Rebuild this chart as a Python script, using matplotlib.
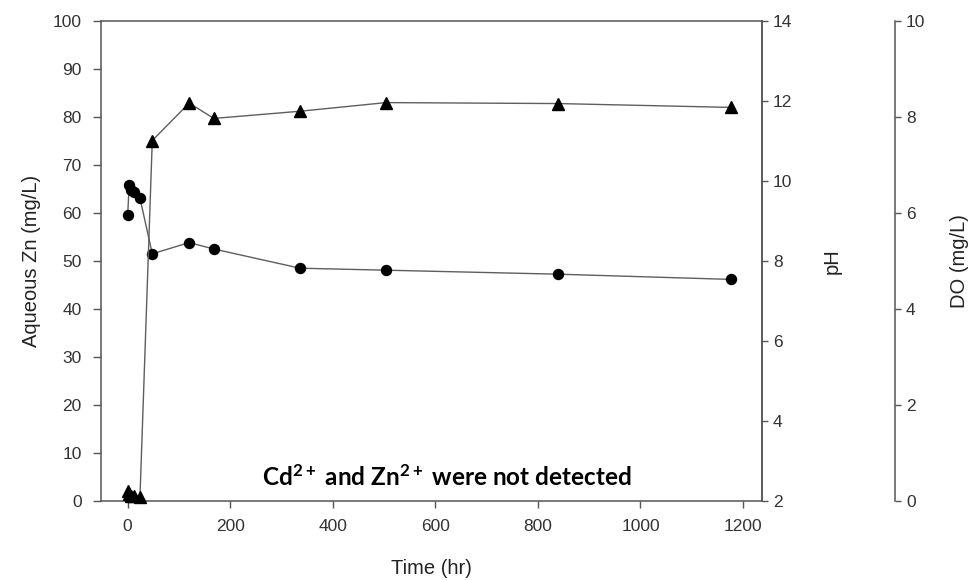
import matplotlib
matplotlib.use("Agg")
import matplotlib.pyplot as plt

# Sampling times (hr)
time_hr = [0, 3, 6, 12, 24, 48, 120, 168, 336, 504, 840, 1176]
# pH of the solution (circles, middle axis)
ph_values = [9.15, 9.90, 9.78, 9.72, 9.57, 8.18, 8.46, 8.30, 7.82, 7.77, 7.67, 7.54]
# Dissolved oxygen, mg/L (triangles, outer axis)
do_values = [0.20, 0.15, 0.10, 0.10, 0.08, 7.51, 8.29, 7.97, 8.12, 8.30, 8.28, 8.20]

x_ticks = [0, 200, 400, 600, 800, 1000, 1200]
zn_ticks = list(range(0, 101, 10))
ph_ticks = [2, 4, 6, 8, 10, 12, 14]
do_ticks = [0, 2, 4, 6, 8, 10]

note = "Cd$^{2+}$ and Zn$^{2+}$ were not detected"

plt.rcParams["font.family"] = ["Liberation Sans", "DejaVu Sans"]
plt.rcParams["mathtext.default"] = "regular"

spine_col = "#555555"
tick_col = "#333333"
label_col = "#222222"
tick_fs = 12.5
label_fs = 14.5

W, H = 975, 580
fig = plt.figure(figsize=(W / 100, H / 100), dpi=100)
left, right, top, bottom = 101, 762, 21, 501
ax = fig.add_axes([left / W, 1 - bottom / H, (right - left) / W, (bottom - top) / H])

ax.set_xlim(-52, 1237)
ax.set_ylim(0, 100)
ax.set_xticks(x_ticks)
ax.set_yticks(zn_ticks)

ax2 = ax.twinx()
ax2.set_ylim(2, 14)
ax2.set_yticks(ph_ticks)

ax3 = ax.twinx()
ax3.set_ylim(0, 10)
ax3.set_yticks(do_ticks)
ax3.spines["right"].set_position(("axes", 1 + 133 / (right - left)))
for s in ("top", "left", "bottom"):
    ax3.spines[s].set_visible(False)

for a in (ax, ax2, ax3):
    for s in a.spines.values():
        s.set_color(spine_col)
        s.set_linewidth(1.1)
    a.tick_params(direction="out", length=4, width=1.0, color=spine_col,
                  labelsize=tick_fs, labelcolor=tick_col, pad=4)

# wider gaps on the left and bottom axes
ax.tick_params(axis="y", length=6, pad=8)
ax.tick_params(axis="x", length=5, pad=8)

ax2.spines["top"].set_visible(False)
ax2.spines["left"].set_visible(False)
ax2.spines["bottom"].set_visible(False)

ax.set_xlabel("Time (hr)", fontsize=label_fs, color=label_col, labelpad=18)
ax.set_ylabel("Aqueous Zn (mg/L)", fontsize=label_fs, color=label_col, labelpad=8)
ax2.set_ylabel("pH", fontsize=label_fs, color=label_col, labelpad=22)
ax3.set_ylabel("DO (mg/L)", fontsize=label_fs, color=label_col, labelpad=18)

line_col = "#5e5e5e"
ax2.plot(time_hr, ph_values, color=line_col, lw=1.0, marker="o", markersize=7.2,
         markerfacecolor="black", markeredgecolor="black", clip_on=False, zorder=3)
ax3.plot(time_hr, do_values, color=line_col, lw=1.0, marker="^", markersize=8.6,
         markerfacecolor="black", markeredgecolor="black", clip_on=False, zorder=3)

ax.text(622, 5.06, note, ha="center", va="center", fontsize=17.5,
        fontweight="bold", family=["Lato", "DejaVu Sans"], color="black")

fig.savefig("out.png", dpi=100)
